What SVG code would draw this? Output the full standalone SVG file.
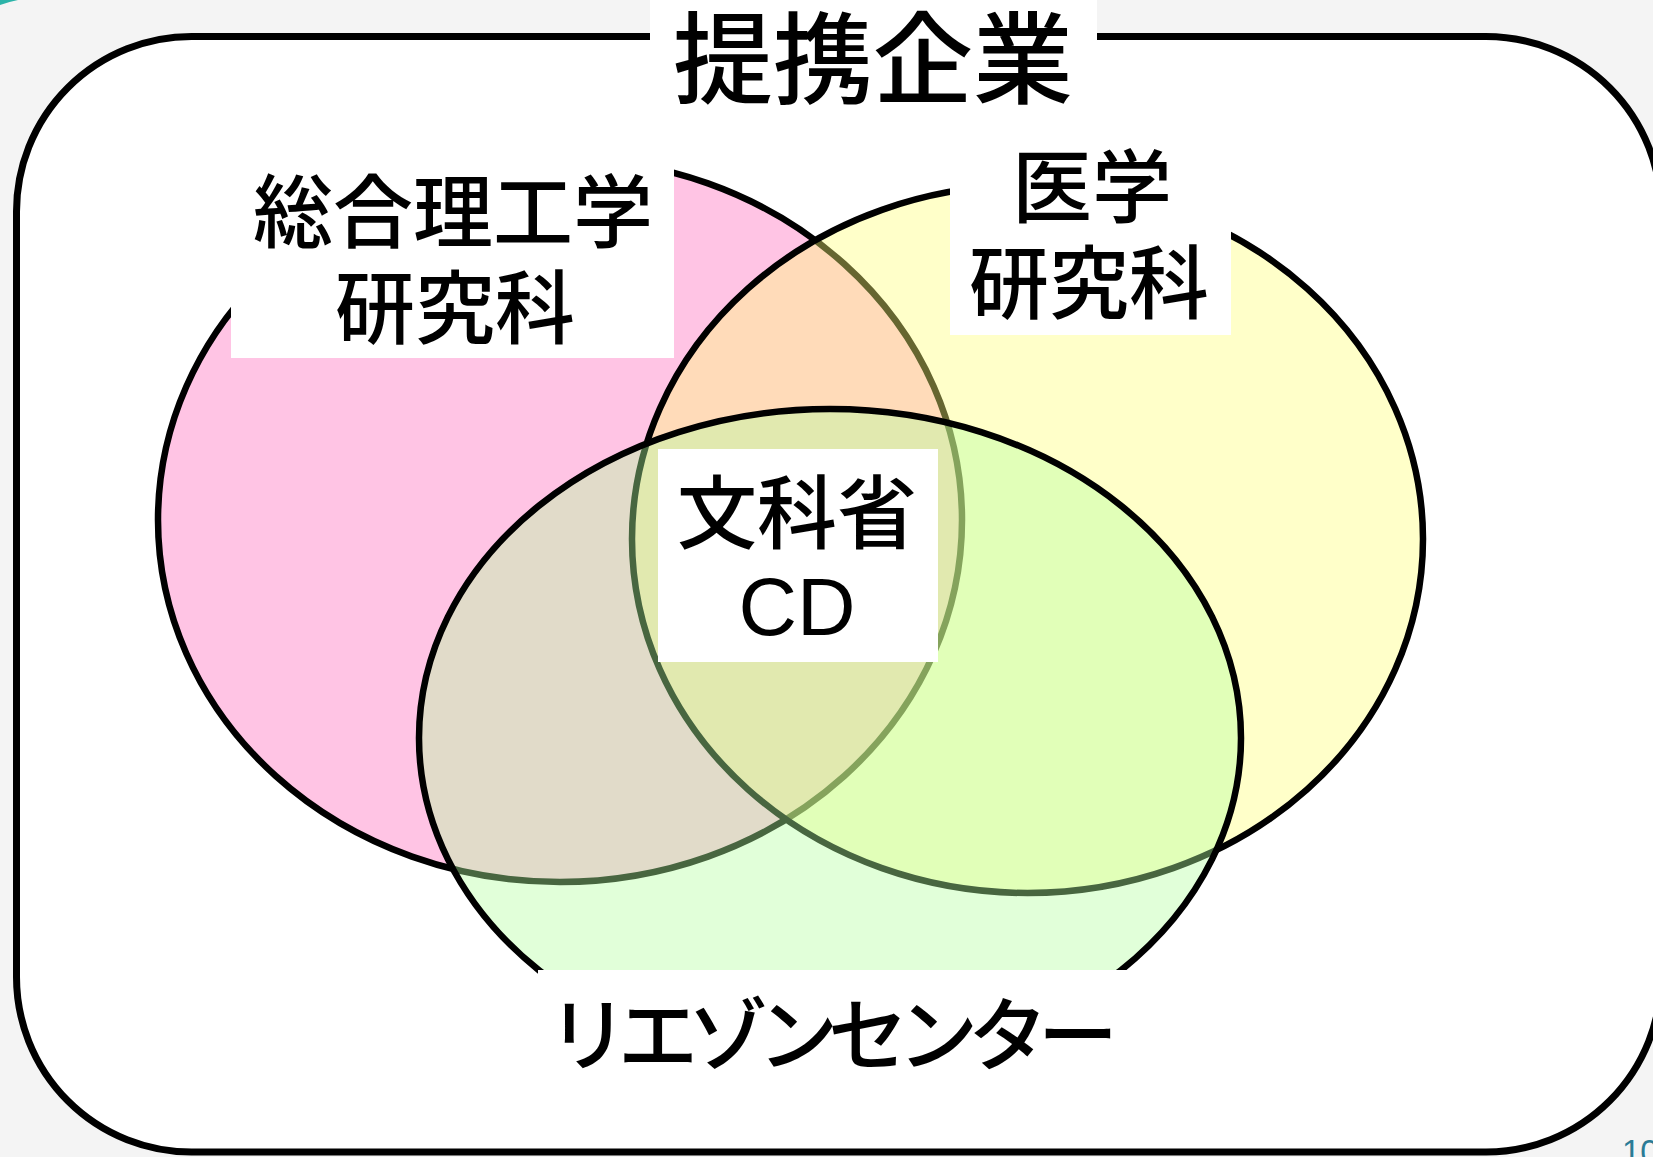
<svg xmlns="http://www.w3.org/2000/svg" width="1653" height="1157" viewBox="0 0 1653 1157">
  <style>
    .jp { font-family: 'Noto Sans CJK JP', 'Liberation Sans', sans-serif; font-weight: 500; fill: #000; }
    .lat { font-family: 'Liberation Sans', 'Noto Sans CJK JP', sans-serif; fill: #000; }
    .ring { stroke: #000; stroke-width: 6.5; }
    .box { fill: #fff; stroke: none; }
  </style>
  <rect x="0" y="0" width="1653" height="1157" fill="#f4f4f4"/>
  <path d="M0,0 L18,0 Q8,2 0,5 Z" fill="#2bb3a8"/>

  <g id="frame">
    <rect x="16.5" y="36.5" width="1644.5" height="1115.5" rx="175" ry="175" fill="#fff" stroke="#000" stroke-width="7"/>
    <rect class="box" x="650" y="0" width="447" height="120"/>
    <text class="jp" x="873" y="96" font-size="100" text-anchor="middle">提携企業</text>
  </g>

  <g id="node-sogo">
    <ellipse class="ring" cx="560" cy="520" rx="402" ry="362" fill="#ffc4e4"/>
    <rect class="box" x="231" y="145" width="443" height="213"/>
    <text class="jp" x="453" y="241" font-size="80" text-anchor="middle">総合理工学</text>
    <text class="jp" x="455" y="337" font-size="80" text-anchor="middle">研究科</text>
  </g>

  <g id="node-igaku">
    <ellipse class="ring" cx="1027.5" cy="539" rx="395.5" ry="354" fill="rgb(255,255,120)" fill-opacity="0.4"/>
    <rect class="box" x="950" y="140" width="281" height="195"/>
    <text class="jp" x="1092" y="216" font-size="80" text-anchor="middle">医学</text>
    <text class="jp" x="1089" y="312" font-size="80" text-anchor="middle">研究科</text>
  </g>

  <g id="node-liaison">
    <ellipse class="ring" cx="830" cy="738" rx="411" ry="329" fill="rgb(180,255,160)" fill-opacity="0.4"/>
    <rect class="box" x="538" y="970" width="592" height="115"/>
    <text class="jp" x="548" y="1064" font-size="80" letter-spacing="-10">リエゾンセンター</text>
  </g>

  <g id="node-monka">
    <rect class="box" x="658" y="449" width="280" height="213"/>
    <text class="jp" x="797" y="542" font-size="80" text-anchor="middle">文科省</text>
    <text class="lat" x="797" y="635" font-size="81" text-anchor="middle">CD</text>
  </g>

  <g id="connectors"></g>

  <text class="lat" x="1622" y="1163" font-size="33" style="fill:#2a7b96">10</text>
</svg>
